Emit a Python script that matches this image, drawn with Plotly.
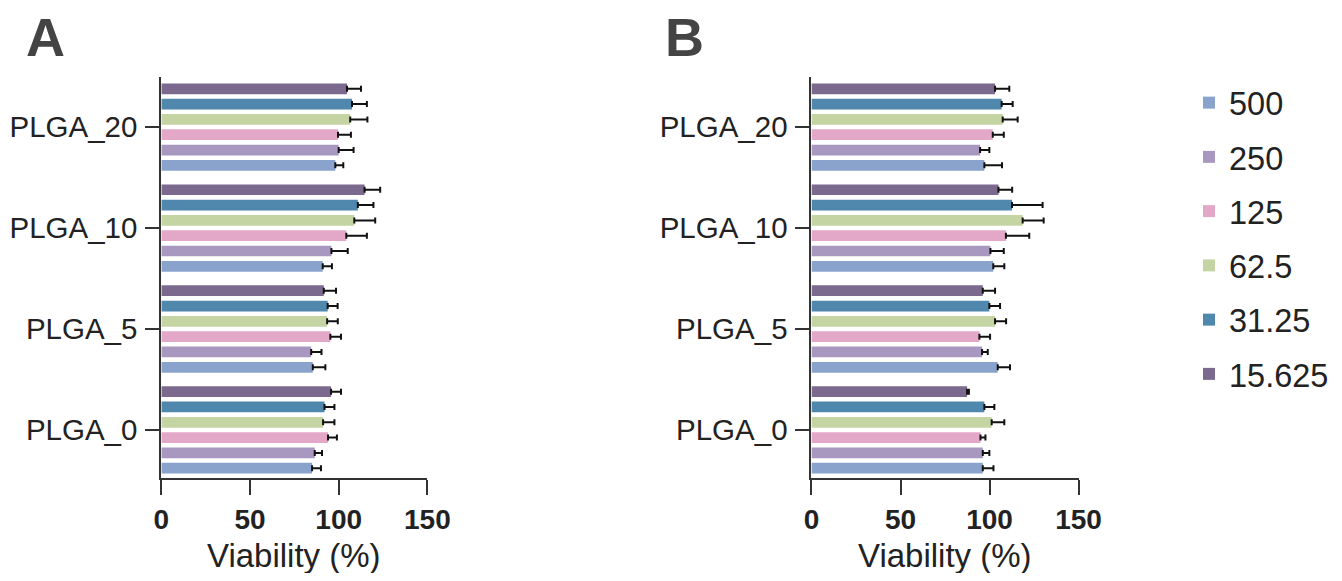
import plotly.graph_objects as go

categories = ["PLGA_0", "PLGA_5", "PLGA_10", "PLGA_20"]
concentrations = ["500", "250", "125", "62.5", "31.25", "15.625"]
colors = ["#8aa3cc", "#a898c0", "#e3a8c8", "#c4d4a2", "#4f87ad", "#7b6a8e"]

# Panel A values (per concentration, ordered PLGA_0, PLGA_5, PLGA_10, PLGA_20)
a_500 = [85.0, 85.4, 91.0, 98.1]
a_250 = [86.5, 84.5, 95.9, 100.0]
a_125 = [94.0, 95.3, 104.3, 99.6]
a_62_5 = [91.2, 93.5, 108.8, 106.5]
a_31_25 = [92.0, 93.8, 110.8, 107.5]
a_15_625 = [95.7, 91.6, 114.6, 104.7]

a_500_err = [5.0, 7.1, 5.2, 4.5]
a_250_err = [4.1, 5.8, 9.2, 8.4]
a_125_err = [5.0, 6.0, 11.6, 7.3]
a_62_5_err = [6.4, 6.0, 11.8, 9.7]
a_31_25_err = [5.6, 5.6, 8.8, 8.4]
a_15_625_err = [5.6, 6.9, 8.8, 7.9]

# Panel B values
b_500 = [96.2, 104.6, 102.1, 97.1]
b_250 = [96.2, 95.8, 100.5, 94.7]
b_125 = [94.9, 94.3, 109.2, 101.8]
b_62_5 = [101.2, 103.1, 118.6, 107.4]
b_31_25 = [97.1, 99.9, 112.6, 106.8]
b_15_625 = [87.4, 96.2, 105.0, 103.1]

b_500_err = [6.0, 6.9, 6.2, 9.9]
b_250_err = [3.7, 3.2, 7.5, 5.2]
b_125_err = [2.8, 6.0, 13.1, 6.2]
b_62_5_err = [7.1, 6.2, 11.8, 8.4]
b_31_25_err = [5.6, 6.0, 17.2, 6.2]
b_15_625_err = [1.0, 6.9, 7.7, 8.0]

x_ticks = [0, 50, 100, 150]
x_title = "Viability (%)"
panel_labels = ["A", "B"]

panel_a = [a_500, a_250, a_125, a_62_5, a_31_25, a_15_625]
panel_a_err = [a_500_err, a_250_err, a_125_err, a_62_5_err, a_31_25_err, a_15_625_err]
panel_b = [b_500, b_250, b_125, b_62_5, b_31_25, b_15_625]
panel_b_err = [b_500_err, b_250_err, b_125_err, b_62_5_err, b_31_25_err, b_15_625_err]

FONT = "Liberation Sans, Arial, sans-serif"
TXT = "#222222"
AX = "#333333"

fig = go.Figure()

for vals, errs, xa, ya, show in [
    (panel_a, panel_a_err, "x", "y", True),
    (panel_b, panel_b_err, "x2", "y2", False),
]:
    for i, conc in enumerate(concentrations):
        fig.add_trace(go.Bar(
            x=vals[i], y=categories, orientation="h",
            name=conc, legendgroup=conc, showlegend=show,
            marker=dict(color=colors[i], line=dict(width=0)),
            error_x=dict(type="data", array=errs[i], arrayminus=[0] * len(errs[i]),
                         symmetric=False, color="#111111", thickness=2, width=3),
            xaxis=xa, yaxis=ya,
        ))

# page body has an 8px margin; figure sized to fit the window
OFF = 8
W, H = 1342 - 2 * OFF, 581 - 2 * OFF


def px_x(v):
    return (v - OFF) / W


def px_y(v):
    return 1 - (v - OFF) / H


ydom = [px_y(478), px_y(77)]

xcommon = dict(range=[0, 150], tickvals=x_ticks, showline=True, linecolor=AX, linewidth=2,
               ticks="outside", ticklen=15, tickwidth=2, tickcolor=AX, showgrid=False,
               zeroline=False, tickfont=dict(family=FONT, size=28, color=TXT, weight="bold"),
               ticklabelstandoff=0,
               automargin=False, fixedrange=True)
ycommon = dict(type="category", categoryorder="array", categoryarray=categories,
               range=[-0.476, 3.496], showline=True, linecolor=AX, linewidth=2,
               ticks="outside", ticklen=14, tickwidth=2, tickcolor=AX, showgrid=False,
               zeroline=False, tickfont=dict(family=FONT, size=29.5, color=TXT),
               ticklabelstandoff=2,
               automargin=False, fixedrange=True)

annotations = []
for xref in ["x domain", "x2 domain"]:
    annotations.append(dict(text=x_title, x=0.5, y=px_y(555), xref=xref, yref="paper",
                            showarrow=False, xanchor="center", yanchor="middle",
                            font=dict(family=FONT, size=33, color=TXT)))
for lab, xp in zip(panel_labels, [46, 686]):
    annotations.append(dict(text="<b>" + lab + "</b>", x=px_x(xp), y=px_y(37),
                            xref="paper", yref="paper", showarrow=False,
                            xanchor="center", yanchor="middle",
                            font=dict(family=FONT, size=54, color="#444444")))

fig.update_layout(
    width=W, height=H,
    margin=dict(l=0, r=0, t=0, b=0),
    paper_bgcolor="white", plot_bgcolor="white",
    barmode="group", bargap=0.09, bargroupgap=0.3,
    xaxis=dict(domain=[px_x(161.7), px_x(428.3)], anchor="y", **xcommon),
    yaxis=dict(domain=ydom, anchor="x", **ycommon),
    xaxis2=dict(domain=[px_x(813.3), px_x(1081)], anchor="y2", **xcommon),
    yaxis2=dict(domain=ydom, anchor="x2", **ycommon),
    legend=dict(x=px_x(1192), y=px_y(75), xanchor="left", yanchor="top",
                traceorder="grouped", tracegroupgap=9,
                font=dict(family=FONT, size=32.5, color=TXT), bgcolor="rgba(0,0,0,0)"),
    showlegend=True,
    annotations=annotations,
)

fig.write_html("out.html")
